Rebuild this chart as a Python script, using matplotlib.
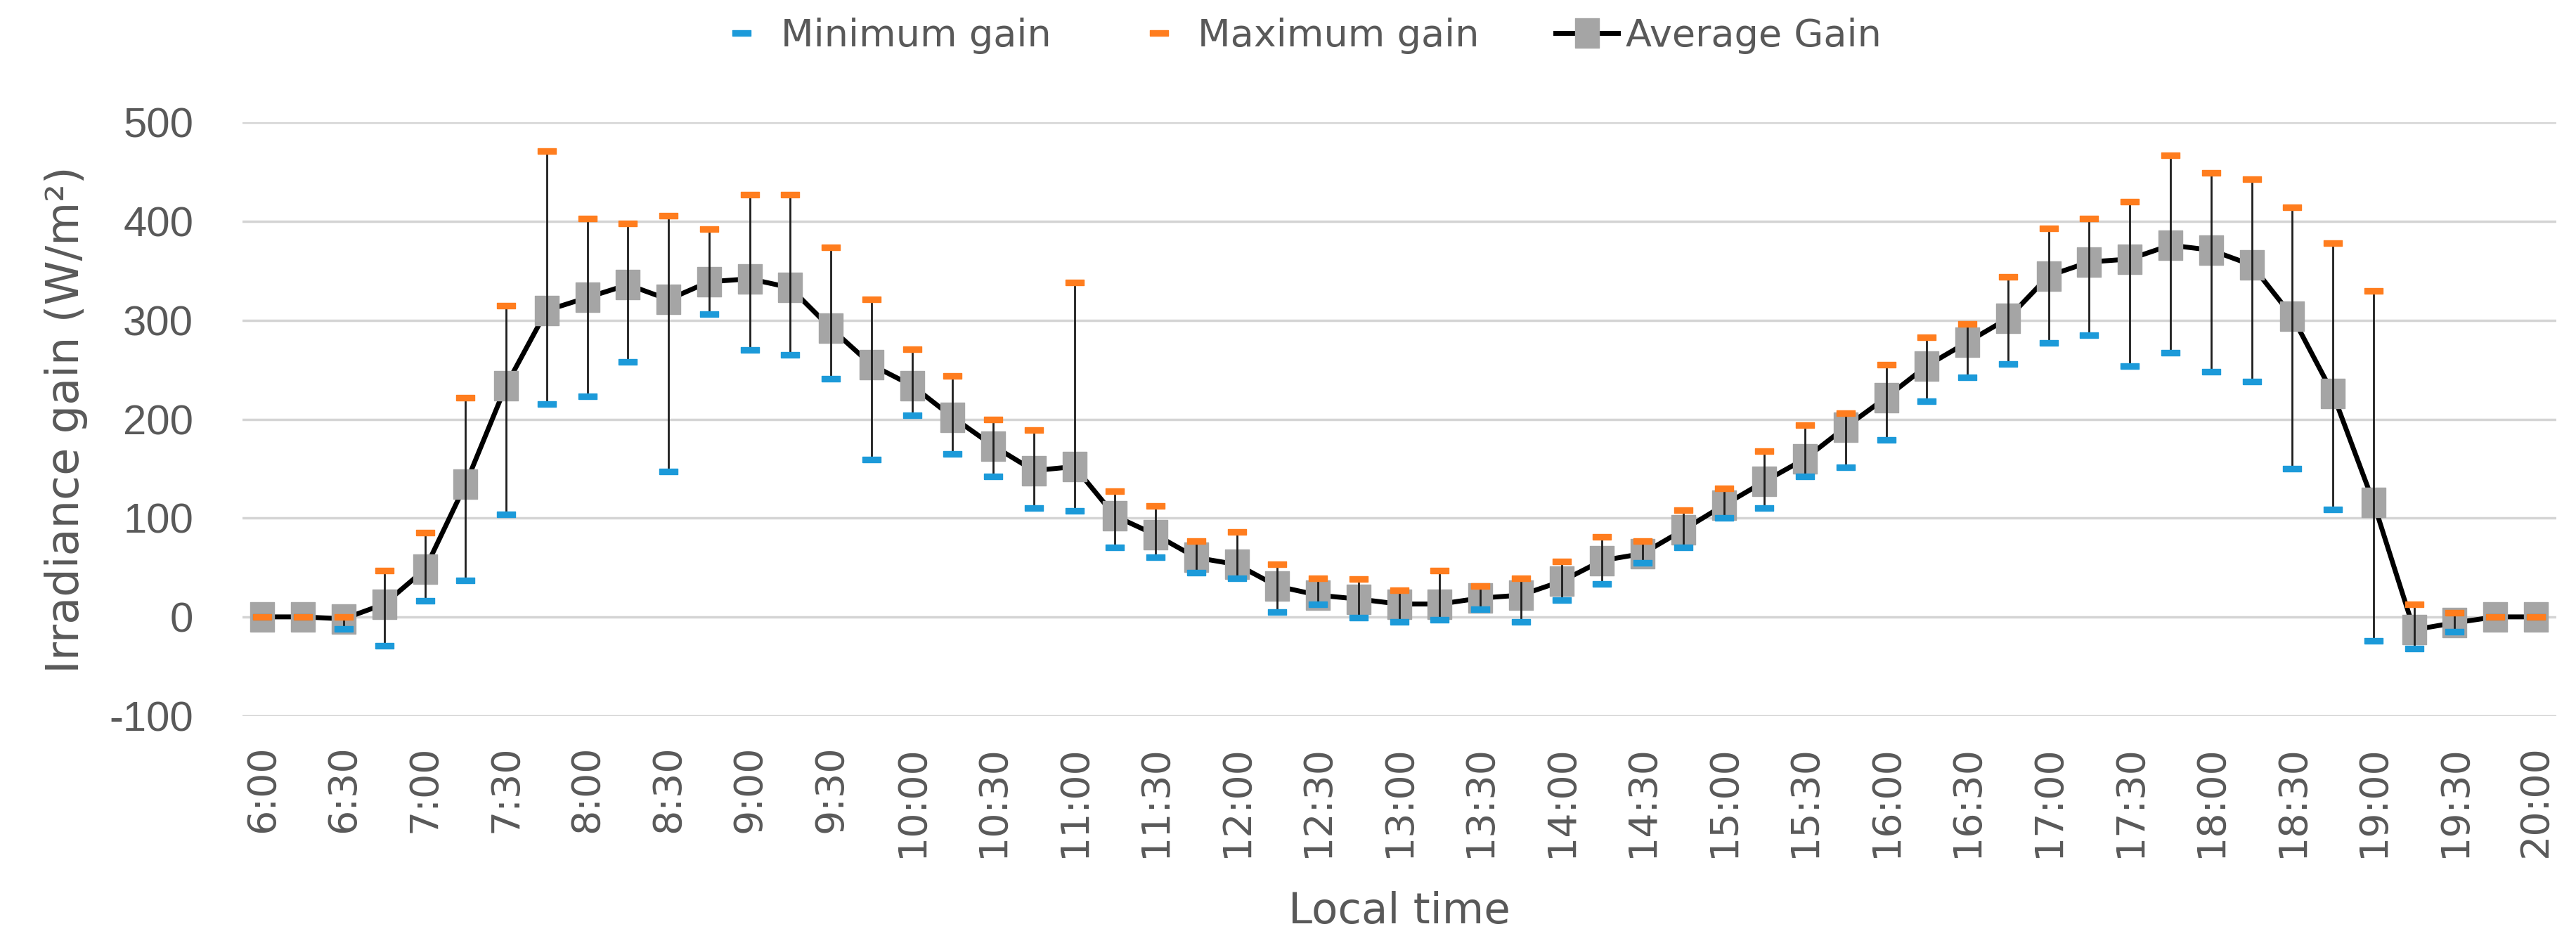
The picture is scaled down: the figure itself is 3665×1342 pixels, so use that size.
import matplotlib
matplotlib.use("Agg")
import matplotlib.pyplot as plt
from matplotlib.lines import Line2D
import numpy as np

plt.rcParams["axes.unicode_minus"] = False

# ---- data -------------------------------------------------------------
times = ["6:00", "6:15", "6:30", "6:45", "7:00", "7:15", "7:30", "7:45",
         "8:00", "8:15", "8:30", "8:45", "9:00", "9:15", "9:30", "9:45",
         "10:00", "10:15", "10:30", "10:45", "11:00", "11:15", "11:30", "11:45",
         "12:00", "12:15", "12:30", "12:45", "13:00", "13:15", "13:30", "13:45",
         "14:00", "14:15", "14:30", "14:45", "15:00", "15:15", "15:30", "15:45",
         "16:00", "16:15", "16:30", "16:45", "17:00", "17:15", "17:30", "17:45",
         "18:00", "18:15", "18:30", "18:45", "19:00", "19:15", "19:30", "19:45",
         "20:00"]

avg_gain = [0, 0, -2, 13, 48, 134, 234, 310, 323, 336, 321, 339, 342, 333, 292, 255,
            234, 202, 173, 148, 152, 102, 83, 60, 53, 31, 22, 18, 13, 13, 19, 22,
            36, 57, 64, 88, 113, 137, 160, 192, 222, 254, 278, 302, 345, 359, 362, 376,
            371, 356, 304, 226, 116, -13, -6, 0, 0]

min_gain = [0, 0, -12, -29, 16, 37, 104, 215, 223, 258, 147, 306, 270, 265, 241, 159,
            204, 165, 142, 110, 107, 70, 60, 45, 39, 5, 13, -1, -5, -3, 8, -5,
            17, 33, 55, 70, 100, 110, 142, 151, 179, 218, 242, 256, 277, 285, 254, 267,
            248, 238, 150, 109, -24, -32, -15, 0, 0]

max_gain = [0, 0, 0, 47, 85, 222, 315, 471, 403, 398, 406, 392, 427, 427, 374, 321,
            271, 244, 200, 189, 338, 127, 112, 77, 86, 53, 39, 38, 27, 47, 31, 39,
            56, 81, 77, 108, 130, 168, 194, 206, 255, 283, 296, 344, 393, 403, 420, 467,
            449, 443, 414, 378, 330, 13, 4, 0, 0]

y_ticks = [-100, 0, 100, 200, 300, 400, 500]

# ---- style ------------------------------------------------------------
TEXT = "#595959"
BLUE = "#1C9AD9"
ORANGE = "#FF7D1E"
GREY = "#A5A5A5"
GRID = "#D4D4D4"

dash = [(-3, -1), (3, -1), (3, 1), (-3, 1), (-3, -1)]
tall = [(-0.8, -1), (0.8, -1), (0.8, 1), (-0.8, 1), (-0.8, -1)]

fig = plt.figure(figsize=(36.66, 13.42), dpi=100)
ax = fig.add_axes([0.094, 0.241, 0.898, 0.629])

x = np.arange(len(times))

ax.plot(x, avg_gain, color="black", lw=5, marker=tall, ms=30,
        mfc=GREY, mec=GREY, zorder=3)
ax.vlines(x, min_gain, max_gain, color="#1E1E1E", lw=2.0, zorder=4)
ax.plot(x, min_gain, ls="none", marker=dash, ms=19, mfc=BLUE, mec=BLUE, zorder=5)
ax.plot(x, max_gain, ls="none", marker=dash, ms=19, mfc=ORANGE, mec=ORANGE, zorder=6)

ax.set_xlim(-0.5, len(times) - 0.5)
ax.set_ylim(y_ticks[0], y_ticks[-1])
ax.set_yticks(y_ticks)
ax.set_xticks(x[::2])
ax.set_xticklabels(times[::2], rotation=90)

ax.yaxis.grid(True, color=GRID, lw=2.5)
ax.set_axisbelow(True)
for s in ax.spines.values():
    s.set_visible(False)

ax.tick_params(axis="y", length=0, pad=50, labelsize=43, labelcolor=TEXT)
ax.tick_params(axis="x", length=0, pad=30, labelsize=40, labelcolor=TEXT)
for lbl in ax.get_yticklabels():
    lbl.set_fontfamily(["Liberation Sans", "DejaVu Sans"])

fig.text(0.0256, 0.555, "Irradiance gain (W/m²)", rotation=90, ha="center",
         va="center", fontsize=46, color=TEXT)
fig.text(0.543, 0.033, "Local time", ha="center", va="center", fontsize=44, color=TEXT)

handles = [
    Line2D([], [], ls="none", marker=dash, ms=19, mfc=BLUE, mec=BLUE),
    Line2D([], [], ls="none", marker=dash, ms=19, mfc=ORANGE, mec=ORANGE),
    Line2D([], [], color="black", lw=5, marker=tall, ms=30, mfc=GREY, mec=GREY),
]
labels = ["Minimum gain", "Maximum gain", "Average Gain"]
leg = fig.legend(handles, labels, loc="center", bbox_to_anchor=(0.503, 0.962),
                 ncol=3, frameon=False, fontsize=39, handlelength=1.65,
                 handletextpad=0.2, columnspacing=2.0)
for t in leg.get_texts():
    t.set_color(TEXT)

fig.savefig("out.png", dpi=100)
